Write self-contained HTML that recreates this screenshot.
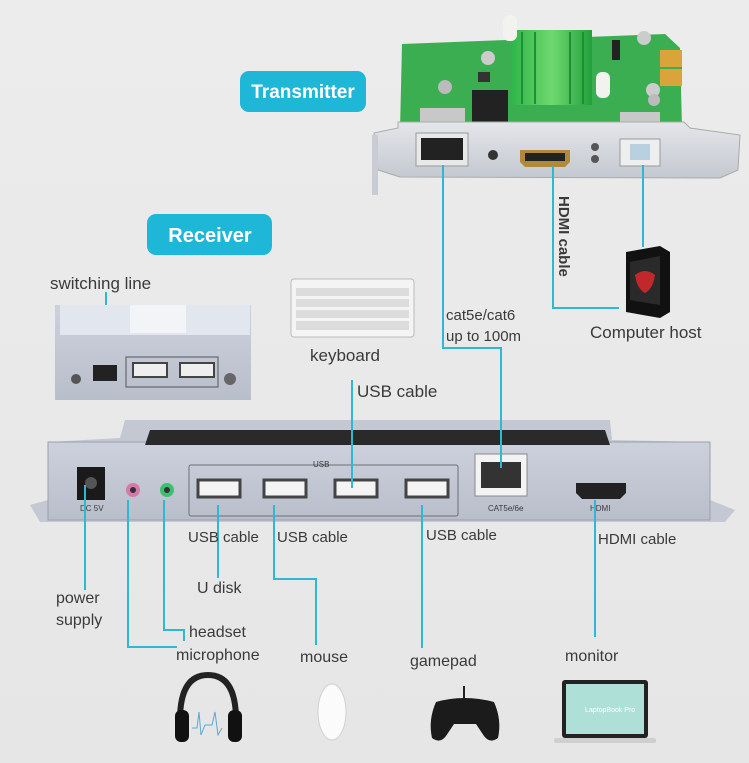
<!DOCTYPE html>
<html><head><meta charset="utf-8"><style>
html,body{margin:0;padding:0;background:#ebebeb;}
svg{display:block}
text{font-family:"Liberation Sans",sans-serif;fill:#3a3a3a;}
</style></head><body>
<svg width="749" height="763" viewBox="0 0 749 763" xmlns="http://www.w3.org/2000/svg">
<defs>
<linearGradient id="bg" x1="0" y1="0" x2="0" y2="1"><stop offset="0" stop-color="#ececec"/><stop offset="1" stop-color="#e6e6e6"/></linearGradient>
<linearGradient id="metal" x1="0" y1="0" x2="0" y2="1"><stop offset="0" stop-color="#e4e6ea"/><stop offset="1" stop-color="#c4c8d0"/></linearGradient>
<linearGradient id="box" x1="0" y1="0" x2="0" y2="1"><stop offset="0" stop-color="#ccd1dc"/><stop offset="1" stop-color="#b9becb"/></linearGradient>
<linearGradient id="hs" x1="0" y1="0" x2="1" y2="0"><stop offset="0" stop-color="#2fb64a"/><stop offset="0.5" stop-color="#6fd86f"/><stop offset="1" stop-color="#22a03c"/></linearGradient>
</defs>
<rect width="749" height="763" fill="url(#bg)"/>

<!-- PCB -->
<polygon points="402,44 665,34 680,48 682,128 400,130" fill="#3cae52"/>
<rect x="660" y="50" width="22" height="36" fill="#d9a43a"/>
<line x1="660" y1="68" x2="682" y2="68" stroke="#3cae52" stroke-width="2"/>
<rect x="512" y="30" width="80" height="75" fill="url(#hs)"/>
<g stroke="#1e8f35" stroke-width="2"><line x1="522" y1="32" x2="522" y2="104"/><line x1="535" y1="32" x2="535" y2="104"/><line x1="570" y1="32" x2="570" y2="104"/><line x1="583" y1="32" x2="583" y2="104"/></g>
<rect x="503" y="15" width="14" height="26" rx="6" fill="#f2f2ee"/>
<rect x="596" y="72" width="14" height="26" rx="6" fill="#f2f2ee"/>
<rect x="472" y="90" width="36" height="32" fill="#222"/>
<rect x="478" y="72" width="12" height="10" fill="#333"/>
<circle cx="488" cy="58" r="7" fill="#ccc"/><circle cx="445" cy="87" r="7" fill="#bbb"/>
<circle cx="644" cy="38" r="7" fill="#ccc"/><circle cx="653" cy="90" r="7" fill="#ccc"/><circle cx="654" cy="100" r="6" fill="#bbb"/>
<rect x="612" y="40" width="8" height="20" fill="#222"/>
<rect x="420" y="108" width="45" height="16" fill="#c8c8c8"/>
<rect x="620" y="112" width="40" height="14" fill="#c8c8c8"/>
<!-- bracket -->
<polygon points="398,122 684,122 690,128 740,135 738,170 720,178 400,177 378,170 374,133 398,128" fill="url(#metal)" stroke="#aaa" stroke-width="1"/>
<rect x="372" y="135" width="6" height="60" fill="#c9ccd2"/>
<rect x="416" y="133" width="52" height="33" fill="#e8e8e8" stroke="#999"/>
<rect x="421" y="138" width="42" height="22" fill="#222"/>
<circle cx="493" cy="155" r="5" fill="#333"/>
<path d="M520,150 h50 v12 l-5,5 h-40 l-5,-5 z" fill="#b08a3a"/>
<rect x="525" y="153" width="40" height="8" fill="#222"/>
<circle cx="595" cy="147" r="4" fill="#555"/><circle cx="595" cy="159" r="4" fill="#555"/>
<rect x="620" y="139" width="40" height="27" fill="#eee" stroke="#999"/>
<rect x="630" y="144" width="20" height="16" fill="#b8d0e0"/>

<!-- badges -->
<rect x="240" y="71" width="126" height="41" rx="9" fill="#1fb7d8"/>
<text x="303" y="98" text-anchor="middle" font-size="19" font-weight="bold" style="fill:#fff">Transmitter</text>
<rect x="147" y="214" width="125" height="41" rx="9" fill="#1fb7d8"/>
<text x="210" y="242" text-anchor="middle" font-size="20" font-weight="bold" style="fill:#fff">Receiver</text>

<!-- receiver main -->
<polygon points="30,505 48,500 48,442 120,438 125,420 610,420 612,440 710,442 710,500 735,510 725,522 40,522" fill="#c3c8d2"/>
<rect x="48" y="442" width="662" height="78" fill="url(#box)" stroke="#9aa0ad"/>
<polygon points="150,430 605,430 610,445 145,445" fill="#2a2a2a"/>
<rect x="77" y="467" width="28" height="33" fill="#1a1a1a"/>
<circle cx="91" cy="483" r="6" fill="#555"/>
<circle cx="133" cy="490" r="7" fill="#d57aa8"/><circle cx="133" cy="490" r="3" fill="#333"/>
<circle cx="167" cy="490" r="7" fill="#3cc070"/><circle cx="167" cy="490" r="3" fill="#333"/>
<rect x="189" y="465" width="269" height="51" rx="2" fill="none" stroke="#6a6f7a"/>
<g fill="#f4f4f4" stroke="#444" stroke-width="3">
<rect x="198" y="480" width="42" height="17"/><rect x="264" y="480" width="42" height="17"/><rect x="335" y="480" width="42" height="17"/><rect x="406" y="480" width="42" height="17"/>
</g>
<rect x="475" y="454" width="52" height="42" fill="#f3f3f3" stroke="#888"/>
<rect x="481" y="462" width="40" height="26" fill="#333"/>
<path d="M576,483 h50 v10 l-6,6 h-38 l-6,-6z" fill="#222"/>
<g font-size="8"><text x="80" y="511">DC 5V</text><text x="488" y="511">CAT5e/6e</text><text x="590" y="511">HDMI</text><text x="313" y="467">USB</text></g>

<!-- cyan lines -->
<g stroke="#2fb8d4" stroke-width="2" fill="none">
<polyline points="443,165 443,348 501,348 501,468"/>
<polyline points="553,165 553,308 619,308"/>
<line x1="643" y1="165" x2="643" y2="247"/>
<line x1="106" y1="292" x2="106" y2="372"/>
<line x1="352" y1="380" x2="352" y2="488"/>
<line x1="85" y1="485" x2="85" y2="590"/>
<polyline points="128,500 128,647 177,647"/>
<polyline points="164,500 164,630 184,630 184,641"/>
<line x1="218" y1="505" x2="218" y2="578"/>
<polyline points="274,505 274,579 316,579 316,645"/>
<line x1="422" y1="505" x2="422" y2="648"/>
<line x1="595" y1="500" x2="595" y2="637"/>
</g>

<!-- HDMI cable vertical -->
<text transform="translate(559,196) rotate(90)" font-size="15" font-weight="bold">HDMI cable</text>

<!-- computer tower -->
<polygon points="626,252 660,246 670,252 670,312 660,318 626,312" fill="#111"/>
<polygon points="630,262 660,256 660,305 630,300" fill="#2a2a2a"/>
<path d="M635,275 q10,-8 20,0 q-2,14 -10,18 q-8,-4 -10,-18z" fill="#c0282a"/>
<text x="590" y="338" font-size="17">Computer host</text>
<text x="446" y="320" font-size="15">cat5e/cat6</text>
<text x="446" y="341" font-size="15">up to 100m</text>

<!-- switching box -->
<text x="50" y="289" font-size="17">switching line</text>
<rect x="55" y="305" width="196" height="95" fill="url(#box)"/>
<polygon points="60,305 250,305 250,335 60,335" fill="#e2e6ee"/>
<rect x="130" y="305" width="56" height="28" fill="#f2f4f7"/>
<rect x="93" y="365" width="24" height="16" fill="#222"/>
<rect x="126" y="357" width="92" height="30" fill="none" stroke="#555"/>
<rect x="133" y="363" width="34" height="14" fill="#eee" stroke="#444" stroke-width="2"/>
<rect x="180" y="363" width="34" height="14" fill="#eee" stroke="#444" stroke-width="2"/>
<circle cx="76" cy="379" r="5" fill="#555"/><circle cx="230" cy="379" r="6" fill="#666"/>

<!-- keyboard -->
<rect x="291" y="279" width="123" height="58" rx="3" fill="#f4f4f4" stroke="#bbb"/>
<g fill="#dcdcdc"><rect x="296" y="288" width="113" height="8"/><rect x="296" y="299" width="113" height="8"/><rect x="296" y="310" width="113" height="8"/><rect x="296" y="321" width="113" height="9"/></g>
<text x="310" y="361" font-size="17">keyboard</text>
<text x="357" y="397" font-size="17">USB cable</text>

<!-- bottom labels -->
<g font-size="15">
<text x="188" y="542">USB cable</text>
<text x="277" y="542">USB cable</text>
<text x="426" y="540">USB cable</text>
<text x="598" y="544">HDMI cable</text>
</g>
<g font-size="16">
<text x="56" y="603">power</text><text x="56" y="625">supply</text>
<text x="197" y="593">U disk</text>
<text x="189" y="637">headset</text>
<text x="176" y="660">microphone</text>
<text x="300" y="662">mouse</text>
<text x="410" y="666">gamepad</text>
<text x="565" y="661">monitor</text>
</g>

<!-- icons -->
<path d="M180,720 q0,-45 28,-45 q28,0 28,45" fill="none" stroke="#222" stroke-width="6"/>
<rect x="175" y="710" width="14" height="32" rx="6" fill="#111"/>
<rect x="228" y="710" width="14" height="32" rx="6" fill="#111"/>
<polyline points="192,728 197,728 199,712 201,735 205,725 212,725 215,712 218,735 222,728" fill="none" stroke="#5aa8d0" stroke-width="1"/>
<ellipse cx="332" cy="712" rx="14" ry="28" fill="#fbfbfb" stroke="#d0d0d0"/>
<line x1="464" y1="686" x2="464" y2="698" stroke="#222" stroke-width="2"/>
<path d="M436,702 q28,-8 58,0 q8,18 4,36 q-8,6 -14,-2 l-8,-12 h-22 l-8,12 q-6,8 -14,2 q-4,-18 4,-36z" fill="#1b1b1b"/>
<rect x="562" y="680" width="86" height="58" rx="3" fill="#222"/>
<rect x="566" y="684" width="78" height="50" fill="#aee0d8"/>
<text x="585" y="712" font-size="7" style="fill:#fff">LaptopBook Pro</text>
<rect x="554" y="738" width="102" height="5" rx="2" fill="#cfcfcf"/>
</svg>
</body></html>
